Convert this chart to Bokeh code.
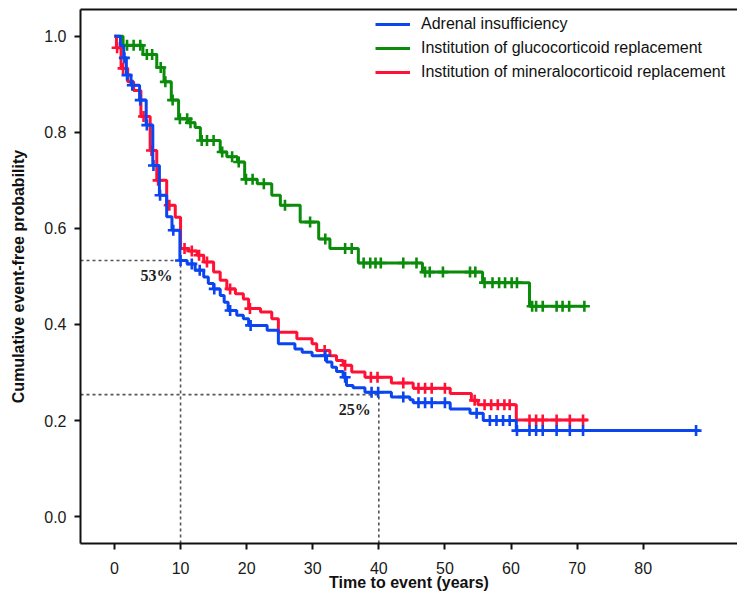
from bokeh.plotting import figure
from bokeh.models import (Range1d, LinearAxis, FixedTicker, Legend, LegendItem,
                          PrintfTickFormatter)
from bokeh.core.properties import value
from bokeh.embed import file_html
from bokeh.resources import INLINE

# ---------------- data ----------------
series_names = ["Adrenal insufficiency",
                "Institution of glucocorticoid replacement",
                "Institution of mineralocorticoid replacement"]

blue_times = [0.9, 1.4, 1.8, 2.5, 3.8, 4.8, 5.8, 6.8, 7.9, 8.7, 9.9, 11.0, 12.2, 13.5, 14.2,
              15.0, 16.0, 16.6, 17.2, 18.5, 19.5, 20.3, 23.1, 24.8, 27.3, 28.4, 29.9, 32.1,
              32.9, 33.6, 34.6, 35.1, 36.1, 37.9, 41.9, 44.7, 45.2, 50.8, 53.8, 55.8, 60.8]
blue_surv = [0.980, 0.955, 0.919, 0.898, 0.867, 0.815, 0.731, 0.669, 0.624, 0.596, 0.533,
             0.526, 0.513, 0.499, 0.485, 0.474, 0.460, 0.446, 0.429, 0.419, 0.412, 0.398,
             0.388, 0.360, 0.349, 0.342, 0.335, 0.322, 0.311, 0.302, 0.290, 0.273, 0.268,
             0.259, 0.249, 0.243, 0.237, 0.224, 0.215, 0.200, 0.179]
blue_end = 88.5
blue_censor = [1.5, 1.9, 2.7, 3.9, 4.9, 5.9, 6.9, 8.9, 10.0, 11.7, 12.9, 15.1, 17.5, 20.6,
               31.9, 34.9, 38.9, 39.9, 43.7, 46.0, 47.0, 48.0, 50.0, 54.8, 56.8, 57.8,
               58.8, 59.8, 60.9, 62.8, 63.8, 64.8, 66.9, 68.9, 70.9, 88.0]

green_times = [1.3, 4.3, 6.4, 7.5, 8.6, 9.7, 11.1, 12.2, 13.0, 16.0, 17.0, 18.6, 19.7, 21.6,
               23.8, 25.1, 28.1, 30.9, 32.6, 36.9, 46.6, 55.7, 62.8]
green_surv = [0.981, 0.962, 0.935, 0.905, 0.867, 0.828, 0.820, 0.810, 0.783, 0.759, 0.749,
              0.738, 0.702, 0.693, 0.669, 0.648, 0.613, 0.578, 0.558, 0.528, 0.509, 0.487,
              0.438]
green_end = 71.2
green_censor = [1.9, 2.9, 3.9, 4.9, 5.7, 7.0, 7.7, 8.8, 9.9, 11.0, 11.5, 13.2, 14.0, 15.0,
                16.3, 17.8, 18.8, 19.9, 20.9, 22.6, 25.8, 29.6, 31.9, 34.9, 35.9, 37.7,
                38.7, 39.5, 40.3, 43.7, 45.7, 47.0, 47.7, 49.7, 53.8, 54.6, 56.0, 57.2,
                58.2, 59.1, 60.1, 60.9, 63.2, 63.8, 64.8, 66.9, 67.8, 68.8, 71.1]

red_times = [0.3, 1.0, 2.0, 2.9, 4.0, 5.4, 6.4, 7.9, 9.2, 10.0, 11.2, 12.5, 13.5, 15.0, 16.0,
             17.0, 18.3, 19.5, 20.3, 22.1, 23.8, 24.8, 27.6, 29.9, 30.6, 32.6, 33.6, 34.6,
             35.9, 37.9, 41.9, 45.2, 50.8, 54.0, 55.0, 60.8]
red_surv = [0.976, 0.933, 0.905, 0.887, 0.833, 0.762, 0.700, 0.648, 0.623, 0.558, 0.553,
            0.544, 0.530, 0.509, 0.492, 0.474, 0.464, 0.453, 0.433, 0.426, 0.412, 0.384,
            0.370, 0.360, 0.346, 0.335, 0.325, 0.315, 0.301, 0.290, 0.278, 0.267, 0.256,
            0.242, 0.233, 0.201]
red_end = 71.6
red_censor = [0.4, 1.3, 4.4, 5.6, 6.6, 8.3, 10.6, 11.7, 12.8, 14.0, 17.5, 20.5, 31.8, 34.9,
              38.8, 39.8, 43.7, 46.0, 47.0, 48.0, 50.0, 54.5, 56.0, 57.0, 58.0, 59.0, 59.8,
              62.8, 63.8, 64.8, 66.9, 68.9, 70.9]

ref_times = [10, 40]
ref_surv = [0.533, 0.254]
ref_labels = ["53%", "25%"]

x_ticks = [0, 10, 20, 30, 40, 50, 60, 70, 80]
y_ticks = [0.0, 0.2, 0.4, 0.6, 0.8, 1.0]

colors = {"blue": "#0a45f0", "green": "#0a8c0a", "red": "#ff1035"}

# ---------------- figure ----------------
X0, X1 = -5.14, 94.27
Y0, Y1 = -0.056, 1.0556
p = figure(width=737, height=599, output_backend="svg", toolbar_location=None,
           x_range=Range1d(X0, X1), y_range=Range1d(Y0, Y1),
           min_border_left=80, min_border_right=0, min_border_top=9, min_border_bottom=56)
p.outline_line_color = None
p.xgrid.visible = False
p.ygrid.visible = False
p.background_fill_color = "white"

FONT = "Liberation Sans"
for ax in (p.xaxis[0], p.yaxis[0]):
    ax.axis_line_color = "#111111"
    ax.axis_line_width = 2
    ax.major_tick_line_color = "#111111"
    ax.major_tick_line_width = 2
    ax.major_tick_out = 6
    ax.major_tick_in = 0
    ax.minor_tick_line_color = None
    ax.major_label_text_font = FONT
    ax.major_label_text_font_size = "16px"
    ax.major_label_text_color = "#1a1a1a"
    ax.axis_label_text_font = FONT
    ax.axis_label_text_font_style = "bold"
    ax.axis_label_text_font_size = "16px"
    ax.axis_label_text_color = "#111111"

p.xaxis[0].ticker = FixedTicker(ticks=x_ticks)
p.yaxis[0].ticker = FixedTicker(ticks=y_ticks)
p.yaxis[0].formatter = PrintfTickFormatter(format="%.1f")
p.xaxis[0].axis_label = "Time to event (years)"
p.yaxis[0].axis_label = "Cumulative event-free probability"
p.xaxis[0].major_label_standoff = 12
p.xaxis[0].axis_label_standoff = -3
p.yaxis[0].major_label_standoff = 8
p.yaxis[0].axis_label_standoff = 14

top = LinearAxis(ticker=FixedTicker(ticks=[]), axis_line_color="#111111", axis_line_width=2,
                 major_tick_line_color=None, minor_tick_line_color=None,
                 major_tick_out=0, major_tick_in=0, major_label_text_font_size="0px",
                 major_label_standoff=0)
p.add_layout(top, "above")

# reference dashed lines
p.segment(x0=[X0] * len(ref_times), y0=ref_surv, x1=ref_times, y1=ref_surv,
          line_color="#555555", line_width=1.6, line_dash="3 3")
p.segment(x0=ref_times, y0=[Y0] * len(ref_times), x1=ref_times, y1=ref_surv,
          line_color="#555555", line_width=1.6, line_dash="3 3")
p.text(x=ref_times, y=ref_surv, text=ref_labels, x_offset=-24, y_offset=15,
       text_align="center", text_baseline="middle", text_font=value("Liberation Serif"),
       text_font_style="bold", text_font_size="16px", text_color="#222222")


def step_value(times, surv, t):
    v = 1.0
    for ti, si in zip(times, surv):
        if ti <= t:
            v = si
    return v


renderers = {}
for key, times, surv, end, cens in (("green", green_times, green_surv, green_end, green_censor),
                                     ("red", red_times, red_surv, red_end, red_censor),
                                     ("blue", blue_times, blue_surv, blue_end, blue_censor)):
    xs = [0.0] + times + [end]
    ys = [1.0] + surv + [surv[-1]]
    r = p.step(x=xs, y=ys, mode="after", line_color=colors[key], line_width=3)
    cy = [step_value(times, surv, t) for t in cens]
    p.scatter(x=cens, y=cy, marker="cross", size=11, line_color=colors[key], line_width=2.6)
    renderers[key] = r

legend = Legend(items=[LegendItem(label=series_names[0], renderers=[renderers["blue"]]),
                       LegendItem(label=series_names[1], renderers=[renderers["green"]]),
                       LegendItem(label=series_names[2], renderers=[renderers["red"]])],
                location=(295, 461), padding=0, margin=0, spacing=4,
                glyph_width=35, glyph_height=20, label_height=20, label_standoff=11,
                label_text_font=FONT, label_text_font_size="16px", label_text_color="#111111",
                border_line_color=None, background_fill_alpha=0)
p.add_layout(legend, "center")

open("out.html", "w").write(file_html(p, INLINE))
